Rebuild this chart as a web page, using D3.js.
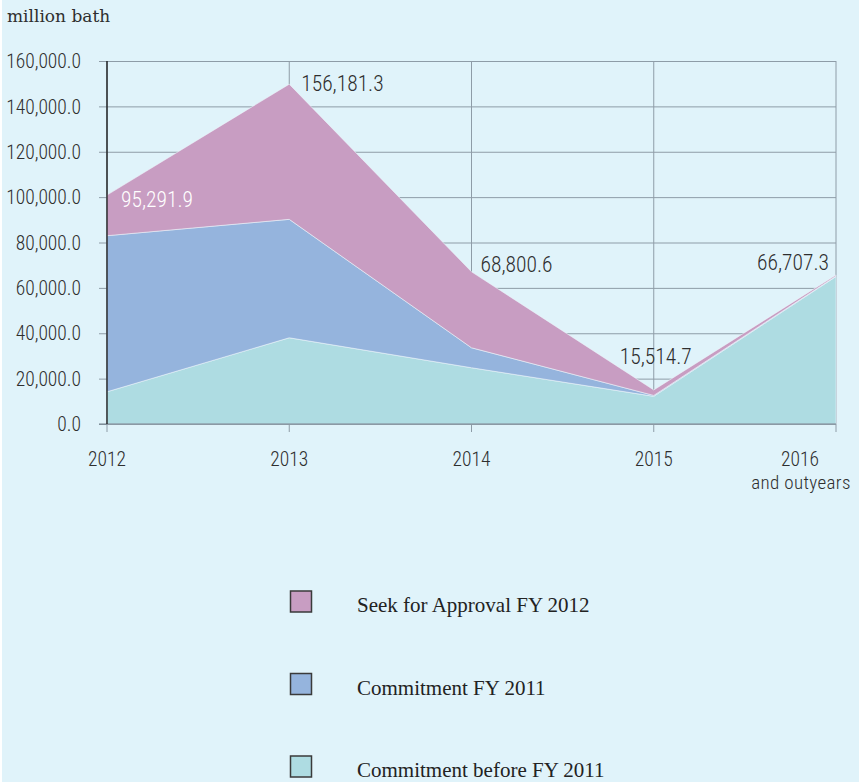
<!DOCTYPE html>
<html>
<head>
<meta charset="utf-8">
<script src="https://cdn.jsdelivr.net/npm/d3@7"></script>
<style>
  html, body { margin: 0; padding: 0; background: #ffffff; }
  svg { display: block; }
</style>
</head>
<body>
<svg id="chart" width="859" height="782"></svg>
<script>
// ---- data ----
const years = ["2012", "2013", "2014", "2015", "2016"];
const commitmentBeforeFY2011 = [14200, 38000, 24800, 12200, 65000];
const commitmentFY2011 = [68800, 52200, 8800, 400, 200];
const seekApprovalFY2012 = [17900, 59600, 33500, 2400, 500];
const pointLabels = ["95,291.9", "156,181.3", "68,800.6", "15,514.7", "66,707.3"];
const yTicks = [0, 20000, 40000, 60000, 80000, 100000, 120000, 140000, 160000];
const seriesNames = ["Commitment before FY 2011", "Commitment FY 2011", "Seek for Approval FY 2012"];
const seriesColors = ["#aedce2", "#95b4dd", "#c89dc2"];

// ---- layout ----
const W = 859, H = 782;
const svg = d3.select("#chart");
svg.append("rect").attr("x", 2).attr("y", 0).attr("width", W - 2).attr("height", H).attr("fill", "#e0f3fa");

const x = d3.scaleLinear().domain([0, years.length - 1]).range([107, 836]);
const y = d3.scaleLinear().domain([0, 160000]).range([424, 61]);

const numFont = "'Roboto Condensed', 'Liberation Sans Narrow', sans-serif";
const numWeight = 300;
const gridColor = "#8e9ca7";
const textColor = "#2e2e2e";

// unit label
svg.append("text").attr("x", 7).attr("y", 22)
  .attr("font-family", "'DejaVu Serif', serif").attr("font-size", 17)
  .attr("fill", textColor).text("million bath");

// horizontal grid + y axis ticks
const yAxis = d3.axisLeft(y).tickValues(yTicks).tickSize(-(836 - 107)).tickPadding(26)
  .tickFormat(d3.format(",.1f"));
const gy = svg.append("g").attr("transform", "translate(107,0)").call(yAxis);
gy.select(".domain").remove();
gy.selectAll(".tick line").attr("stroke", gridColor).attr("x1", -8);
gy.selectAll(".tick text").attr("font-family", numFont).attr("font-weight", numWeight)
  .attr("font-size", 19.5).attr("fill", textColor).attr("dy", "0.34em");

// vertical grid
svg.append("g").selectAll("line").data(years).join("line")
  .attr("x1", (d, i) => x(i)).attr("x2", (d, i) => x(i))
  .attr("y1", y(160000)).attr("y2", y(0) + 8)
  .attr("stroke", gridColor).attr("stroke-width", 1);

// stacked areas
const table = years.map((yr, i) => ({
  i: i,
  s0: commitmentBeforeFY2011[i],
  s1: commitmentFY2011[i],
  s2: seekApprovalFY2012[i]
}));
const stack = d3.stack().keys(["s0", "s1", "s2"]);
const layers = stack(table);
const area = d3.area()
  .x(d => x(d.data.i))
  .y0(d => y(d[0]))
  .y1(d => y(d[1]));
svg.append("g").selectAll("path").data(layers).join("path")
  .attr("d", area)
  .attr("fill", (d, i) => seriesColors[i])
  .attr("stroke", "#eef6fb").attr("stroke-opacity", 0.7).attr("stroke-width", 0.8);

// bottom axis line
svg.append("line").attr("x1", 99).attr("x2", 836).attr("y1", y(0)).attr("y2", y(0))
  .attr("stroke", "#6f7f8a").attr("stroke-width", 1);
// left axis line (black)
svg.append("line").attr("x1", 107).attr("x2", 107).attr("y1", y(160000)).attr("y2", y(0))
  .attr("stroke", "#111").attr("stroke-width", 1.3);

// x labels
const xl = svg.append("g");
years.forEach((yr, i) => {
  const last = i === years.length - 1;
  const cx = last ? x(i) - 36 : x(i);
  xl.append("text").attr("x", cx).attr("y", 466)
    .attr("text-anchor", "middle").attr("font-family", numFont).attr("font-weight", numWeight)
    .attr("font-size", 19.5).attr("fill", textColor).text(yr);
  if (last) {
    xl.append("text").attr("x", cx + 1).attr("y", 489)
      .attr("text-anchor", "middle").attr("font-family", numFont).attr("font-weight", numWeight)
      .attr("font-size", 19).attr("letter-spacing", 0.35).attr("fill", textColor).text("and outyears");
  }
});

// point labels (totals)
const totals = table.map(d => d.s0 + d.s1 + d.s2);
const lbl = svg.append("g").attr("font-family", numFont).attr("font-weight", numWeight).attr("font-size", 21.5);
pointLabels.forEach((t, i) => {
  let tx, ty, anchor = "start", fill = textColor;
  if (i === 0) { tx = x(i) + 14; ty = y(totals[i]) + 13; fill = "#ffffff"; }
  else if (i === 1) { tx = x(i) + 12; ty = y(totals[i]) + 8; }
  else if (i === 2) { tx = x(i) + 9; ty = y(totals[i]) + 1; }
  else if (i === 3) { tx = x(i) - 34; ty = y(totals[i]) - 25; }
  else { tx = x(i) - 7; ty = y(totals[i]) - 4; anchor = "end"; }
  lbl.append("text").attr("x", tx).attr("y", ty).attr("dy", "-0.05em")
    .attr("text-anchor", anchor).attr("fill", fill).text(t);
});

// legend (top series first)
const legendOrder = [2, 1, 0];
const lg = svg.append("g");
legendOrder.forEach((si, k) => {
  const ty = 591 + k * 82.5;
  lg.append("rect").attr("x", 290.5).attr("y", ty).attr("width", 21).attr("height", 21)
    .attr("fill", seriesColors[si]).attr("stroke", "#3a3a3a").attr("stroke-width", 1.5);
  lg.append("text").attr("x", 357).attr("y", ty + 21)
    .attr("font-family", "'Liberation Serif', 'Times New Roman', serif").attr("font-size", 21)
    .attr("fill", "#222").text(seriesNames[si]);
});
</script>
</body>
</html>
